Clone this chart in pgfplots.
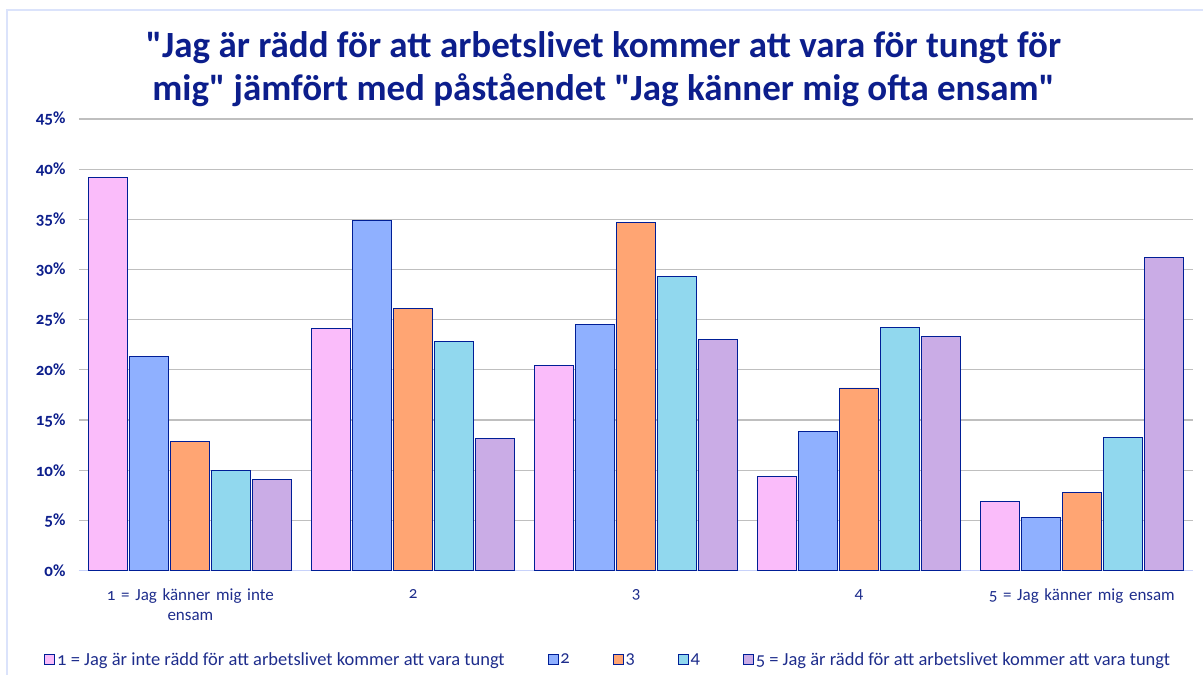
\documentclass[border=0pt]{standalone}
\usepackage{fontspec}
\setmainfont{Carlito}[Numbers=OldStyle]
\newfontfamily\titlefont{Carlito}[Numbers=OldStyle]
\usepackage{pgfplots}
\pgfplotsset{compat=1.18}
\definecolor{navy}{RGB}{12,30,140}
\definecolor{txt}{RGB}{30,45,140}
\definecolor{edge}{RGB}{0,30,150}
\definecolor{cpink}{RGB}{250,188,250}
\definecolor{cblue}{RGB}{143,176,255}
\definecolor{corange}{RGB}{255,165,115}
\definecolor{ccyan}{RGB}{145,216,238}
\definecolor{cpurple}{RGB}{202,172,230}
\definecolor{frame}{RGB}{219,227,251}
\definecolor{grid}{RGB}{217,217,217}
\definecolor{baseax}{RGB}{200,210,250}
\begin{document}
\begin{tikzpicture}
\path (-79pt,-104pt) rectangle (1125pt,571pt);
\draw[frame,line width=1.5pt] (-72pt,-104pt) -- (-72pt,561pt) -- (1125pt,561pt);
\begin{axis}[
  at={(0pt,0pt)}, anchor=south west,
  scale only axis, width=1115pt, height=452pt,
  ybar, bar width=39pt,
  xmin=-0.5, xmax=4.5, ymin=0, ymax=45,
  ytick={0,5,...,45},
  yticklabel={\pgfmathprintnumber{\tick}\%},
  /pgf/number format/assume math mode=true,
  yticklabel style={font=\fontsize{17}{18}\selectfont\bfseries, text=navy, xshift=-10pt},
  xtick={0,1,2,3,4},
  xticklabels={{1 = Jag känner mig inte\\ensam},2,3,4,{5 = Jag känner mig ensam}},
  xticklabel style={font=\fontsize{17}{20}\selectfont, text=txt, align=center, text width=220pt, yshift=-15pt},
  major tick length=0pt,
  axis x line*=bottom, axis y line*=left,
  y axis line style={draw=none},
  x axis line style={baseax, line width=1pt},
  xmajorgrids=false, ymajorgrids=true, grid style={grid, line width=1.2pt},
  every axis plot/.append style={draw=edge, line width=0.9pt},
  legend style={at={(0.475,-0.197)}, anchor=center, draw=none, fill=none,
    font=\fontsize{18.5}{20}\selectfont, text=txt,
    legend columns=5, /tikz/every even column/.append style={column sep=41pt}},
  legend image code/.code={\draw[#1, line width=0.8pt] (0pt,-5pt) rectangle (10pt,5pt);},
]
\addplot[fill=cpink] coordinates {(0,39.2) (1,24.1) (2,20.4) (3,9.4) (4,6.9)};
\addplot[fill=cblue] coordinates {(0,21.3) (1,34.9) (2,24.5) (3,13.9) (4,5.3)};
\addplot[fill=corange] coordinates {(0,12.9) (1,26.1) (2,34.7) (3,18.2) (4,7.8)};
\addplot[fill=ccyan] coordinates {(0,10.0) (1,22.8) (2,29.3) (3,24.2) (4,13.3)};
\addplot[fill=cpurple] coordinates {(0,9.1) (1,13.2) (2,23.0) (3,23.3) (4,31.2)};
\legend{1 = Jag är inte rädd för att arbetslivet kommer att vara tungt,2,3,4,5 = Jag är rädd för att arbetslivet kommer att vara tungt}
\end{axis}
\node[font=\titlefont\fontsize{37}{43}\selectfont\bfseries, text=navy, align=center, anchor=center] at (525pt,502pt)
  {"Jag är rädd för att arbetslivet kommer att vara för tungt för\\mig" jämfört med påståendet "Jag känner mig ofta ensam"};
\end{tikzpicture}
\end{document}
